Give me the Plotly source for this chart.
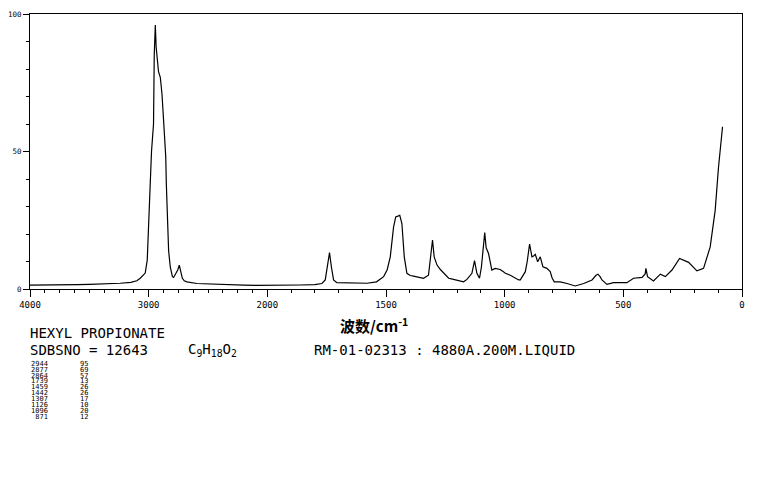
import plotly.graph_objects as go

# ---------------- data (wavenumber cm-1, Raman intensity) ----------------
wavenumber = [
    4000, 3900, 3800, 3700, 3600, 3500, 3400, 3300, 3240, 3150, 3100, 3071, 3050,
    3029, 3012, 3001, 2990, 2976, 2965, 2959, 2953, 2948, 2944, 2937, 2930, 2917,
    2902, 2888, 2878, 2869, 2862, 2856, 2851, 2841, 2832, 2818, 2800, 2790, 2778,
    2755, 2742, 2735, 2730, 2716, 2700, 2678, 2594, 2500, 2400, 2300, 2200, 2100,
    2000, 1900, 1861, 1800, 1770, 1756, 1748, 1738, 1730, 1721, 1707, 1650, 1580,
    1540, 1510, 1495, 1482, 1468, 1459, 1450, 1442, 1433, 1423, 1412, 1398, 1384,
    1360, 1342, 1321, 1309, 1304, 1297, 1285, 1270, 1257, 1236, 1220, 1201, 1173,
    1159, 1138, 1127, 1117, 1106, 1098, 1084, 1078, 1068, 1054, 1040, 1030, 1019,
    1005, 997, 976, 962, 941, 934, 920, 913, 905, 895, 890, 885, 878, 871, 861,
    855, 850, 839, 822, 808, 800, 791, 766, 737, 703, 667, 632, 615, 607, 598,
    590, 569, 541, 485, 457, 421, 408, 405, 398, 373, 344, 323, 295, 263, 225,
    190, 162, 134, 113, 99, 88.5, 82,
]
intensity = [
    1.4, 1.4, 1.5, 1.5, 1.6, 1.7, 1.8, 1.9, 2.1, 2.4, 3.0, 3.9, 4.8,
    5.8, 10.5, 20, 34.7, 50, 56, 60, 85, 90, 96, 88, 84, 79,
    77, 71, 64, 57, 50, 48, 38, 26, 14, 8, 4.5, 4.2, 5.0,
    6.9, 8.7, 7.5, 6.9, 3.9, 3.0, 2.6, 2.0, 1.8, 1.6, 1.5, 1.4, 1.3,
    1.3, 1.4, 1.45, 1.6, 2.0, 3.3, 8, 13.2, 8, 3.3, 2.3, 2.1, 2.1,
    2.6, 4.5, 7, 11.7, 22.6, 26.2, 26.5, 26.8, 23.8, 11.7, 5.7, 4.9, 4.7,
    4.3, 3.9, 5.0, 12.9, 17.8, 11.7, 8.7, 7.0, 5.7, 3.9, 3.6, 3.3, 2.6,
    3.5, 5.7, 10.3, 5.7, 3.9, 8, 20.5, 15, 12.9, 6.9, 7.5, 7.2, 7.1,
    6.3, 5.7, 5.0, 4.2, 3.3, 3.3, 5.7, 6.3, 10, 16.3, 14, 11.7, 12, 12.6, 9.9,
    11, 11.7, 8.1, 7.5, 6.3, 4.0, 2.6, 2.6, 2.0, 1.1, 2.0, 3.3, 5.0, 5.4, 4.5,
    3.3, 1.7, 2.3, 2.3, 3.9, 4.2, 5.5, 7.5, 4.5, 2.9, 5.4, 4.5, 6.9, 11.1, 9.7,
    6.6, 7.5, 15.3, 28.6, 44.3, 54, 59,
]

x_tick_labels = ["4000", "3000", "2000", "1500", "1000", "500", "0"]
x_tick_wn = [4000, 3000, 2000, 1500, 1000, 500, 0]
y_tick_vals = [0, 50, 100]

peak_wn = ["2944", "2877", "2864", "1739", "1459", "1442", "1307", "1126", "1096", " 871"]
peak_int = ["95", "69", "57", "13", "26", "26", "17", "10", "20", "12"]

compound = "HEXYL PROPIONATE"
sdbs_no = "SDBSNO = 12643"
formula = "C<sub>9</sub>H<sub>18</sub>O<sub>2</sub>"
conditions = "RM-01-02313 : 4880A.200M.LIQUID"
x_title = "波数/cm<sup>-1</sup>"


# SDBS Raman axis: region above 2000 cm-1 is drawn at half scale
def to_axis(w):
    return w if w <= 2000 else 2000 + (w - 2000) / 2


x_plot = [to_axis(w) for w in wavenumber]
major_t = [to_axis(w) for w in x_tick_wn]
minor_t = [to_axis(2000 + 125 * k) for k in range(1, 16)] + [float(v) for v in range(100, 2000, 100)]

W, H = 765, 477
OFF = 7.5  # page offset of the figure (browser body margin)
L, R, T, B = 29.3 - OFF, W - 741.7 + OFF, 13 - OFF, H - 289 + OFF


def px(xp):
    return (xp - OFF - L) / (W - L - R)


def py(yp):
    return (H - B - (yp - OFF)) / (H - T - B)


fig = go.Figure()
fig.add_trace(go.Scatter(
    x=x_plot, y=intensity, mode="lines",
    line=dict(color="black", width=1.2, shape="linear"),
    hoverinfo="skip", showlegend=False,
))

fig.update_layout(
    width=W, height=H,
    margin=dict(l=L, r=R, t=T, b=B, pad=0, autoexpand=False),
    paper_bgcolor="white", plot_bgcolor="white",
    xaxis=dict(
        range=[3000, 0], showgrid=False, zeroline=False, automargin=False,
        showline=True, linecolor="black", linewidth=1, mirror=True,
        tickmode="array", tickvals=major_t, ticktext=x_tick_labels,
        ticks="outside", ticklen=7, tickwidth=1, tickcolor="black",
        tickfont=dict(family="DejaVu Sans Mono", size=9, color="black"),
        minor=dict(tickmode="array", tickvals=minor_t, ticks="outside",
                   ticklen=3, tickwidth=1, tickcolor="black", showgrid=False),
    ),
    yaxis=dict(
        range=[0, 100], showgrid=False, zeroline=False, automargin=False,
        showline=True, linecolor="black", linewidth=1, mirror=True,
        tickmode="array", tickvals=y_tick_vals,
        ticks="outside", ticklen=6, tickwidth=1, tickcolor="black",
        tickfont=dict(family="DejaVu Sans Mono", size=7.5, color="black"),
        minor=dict(tickmode="linear", tick0=0, dtick=10, ticks="outside",
                   ticklen=3, tickwidth=1, tickcolor="black", showgrid=False),
    ),
)

ann = []
ann.append(dict(text="<b>" + x_title + "</b>", x=px(373), y=py(325), xanchor="center", yanchor="middle",
                font=dict(family="Noto Sans CJK SC", size=15, color="black")))
head_font = dict(family="DejaVu Sans Mono", size=14, color="black")
ann.append(dict(text=compound, x=px(27), y=py(333), xanchor="left", yanchor="middle", font=head_font))
ann.append(dict(text=sdbs_no, x=px(27), y=py(350), xanchor="left", yanchor="middle", font=head_font))
ann.append(dict(text=formula, x=px(185), y=py(350), xanchor="left", yanchor="middle", font=head_font))
ann.append(dict(text=conditions, x=px(311), y=py(350), xanchor="left", yanchor="middle", font=head_font))
list_font = dict(family="DejaVu Sans Mono", size=7, color="black")
for i, (a, b) in enumerate(zip(peak_wn, peak_int)):
    yy = 364 + i * 5.93
    ann.append(dict(text=a, x=px(28), y=py(yy), xanchor="left", yanchor="middle", font=list_font))
    ann.append(dict(text=b, x=px(77), y=py(yy), xanchor="left", yanchor="middle", font=list_font))
for a in ann:
    a.update(xref="paper", yref="paper", showarrow=False)
fig.update_layout(annotations=ann)

fig.write_html("out.html")
